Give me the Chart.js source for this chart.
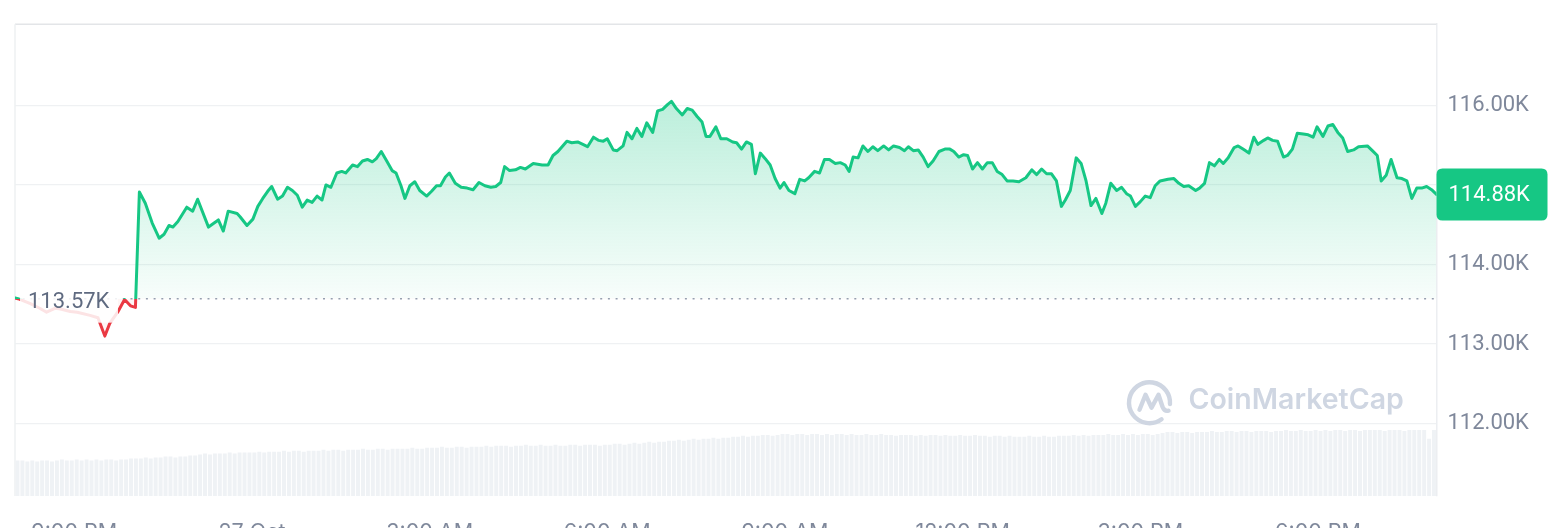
<!DOCTYPE html>
<html><head><meta charset="utf-8">
<script src="https://cdn.jsdelivr.net/npm/chart.js@4.4.1/dist/chart.umd.min.js"></script>
<style>html,body{margin:0;padding:0;background:#fff;overflow:hidden}canvas{display:block}</style>
</head><body>
<canvas id="c" width="1566" height="528"></canvas>
<script>
// minutes after 8:00 PM (26 Oct), price in thousands USD
const pricePoints = [
[0,113.58],[3,113.57],[15,113.51],[25,113.45],[32,113.40],[41,113.45],[46,113.44],[56,113.41],[63,113.40],[76,113.36],[84,113.33],[91,113.10],[96,113.26],[104,113.40],[111,113.56],[117,113.48],[122,113.46],
[126,114.91],[132,114.77],[139,114.52],[146,114.33],[151,114.38],[156,114.49],[160,114.47],[165,114.54],[174,114.72],[180,114.67],[185,114.82],[196,114.47],[206,114.56],[211,114.42],[216,114.67],[225,114.64],[228,114.60],[235,114.49],
[241,114.57],[246,114.73],[251,114.83],[256,114.92],[260,114.98],[266,114.82],[271,114.86],[276,114.97],[281,114.93],[286,114.87],[291,114.72],[296,114.81],[301,114.78],[306,114.86],[311,114.81],[315,115.00],[320,114.97],
[326,115.15],[331,115.17],[335,115.15],[342,115.25],[347,115.23],[352,115.30],[357,115.32],[362,115.29],[366,115.33],[371,115.42],[377,115.29],[382,115.18],[386,115.15],[391,114.99],[395,114.83],[400,114.99],[405,115.04],
[410,114.93],[417,114.86],[422,114.92],[427,114.99],[431,114.99],[436,115.10],[440,115.15],[446,115.02],[452,114.97],[458,114.96],[464,114.94],[470,115.03],[476,114.99],[482,114.97],[487,114.98],[492,115.03],
[496,115.23],[501,115.18],[507,115.19],[512,115.22],[517,115.20],[525,115.27],[534,115.25],[540,115.25],[545,115.37],[550,115.42],[559,115.55],[564,115.53],[570,115.54],[580,115.48],[586,115.60],[591,115.56],[596,115.55],
[600,115.58],[606,115.44],[610,115.43],[616,115.49],[620,115.66],[625,115.58],[630,115.71],[635,115.61],[640,115.78],[646,115.66],[651,115.93],[656,115.95],[661,116.01],[665,116.05],[670,115.96],[676,115.88],[681,115.96],
[686,115.94],[691,115.86],[696,115.79],[700,115.61],[704,115.61],[710,115.73],[715,115.58],[721,115.58],[727,115.54],[731,115.53],[736,115.45],[741,115.54],[746,115.51],[750,115.14],[755,115.40],[760,115.33],[765,115.25],
[770,115.08],[775,114.96],[779,115.03],[784,114.93],[790,114.89],[795,115.07],[800,115.05],[804,115.09],[810,115.17],[815,115.15],[820,115.32],[825,115.32],[831,115.27],[836,115.28],[841,115.25],[845,115.17],[849,115.35],
[854,115.34],[859,115.49],[864,115.42],[869,115.48],[874,115.43],[880,115.49],[885,115.44],[890,115.49],[896,115.47],[901,115.43],[905,115.48],[910,115.43],[915,115.44],[920,115.35],[925,115.23],[930,115.30],[936,115.42],
[942,115.45],[947,115.45],[951,115.42],[956,115.35],[961,115.38],[965,115.37],[970,115.20],[975,115.28],[980,115.20],[985,115.28],[990,115.28],[995,115.17],[1000,115.13],[1005,115.05],[1011,115.05],[1017,115.04],
[1024,115.09],[1030,115.19],[1035,115.13],[1040,115.20],[1045,115.14],[1050,115.14],[1055,115.05],[1060,114.73],[1064,114.81],[1069,114.93],[1075,115.34],[1080,115.27],[1085,115.05],[1090,114.74],[1095,114.83],
[1101,114.64],[1105,114.77],[1110,115.02],[1116,114.93],[1121,114.97],[1126,114.89],[1130,114.86],[1135,114.73],[1140,114.79],[1145,114.86],[1150,114.84],[1155,114.99],[1160,115.05],[1168,115.07],[1174,115.08],
[1179,115.02],[1184,114.98],[1189,114.99],[1196,114.93],[1200,114.96],[1205,115.02],[1210,115.28],[1215,115.24],[1220,115.32],[1224,115.27],[1229,115.34],[1235,115.47],[1239,115.49],[1244,115.45],[1250,115.40],
[1255,115.60],[1259,115.51],[1265,115.56],[1269,115.59],[1274,115.56],[1279,115.55],[1285,115.35],[1289,115.37],[1294,115.45],[1299,115.65],[1305,115.64],[1310,115.63],[1315,115.60],[1319,115.73],[1325,115.61],
[1330,115.74],[1335,115.76],[1340,115.66],[1345,115.59],[1350,115.42],[1356,115.44],[1361,115.48],[1370,115.49],[1375,115.43],[1380,115.37],[1384,115.05],[1389,115.12],[1394,115.32],[1400,115.09],[1405,115.08],
[1410,115.05],[1415,114.83],[1420,114.96],[1425,114.96],[1430,114.98],[1435,114.94],[1440,114.88]
];
const baselinePrice = 113.57;
// 5-minute volume bars (billions USD)
const volumeStart = 2.5, volumeStep = 5;
const volumes = [
36,36,35,36,35,36,36,35,36,37,36,36,
37,36,37,36,37,36,37,37,36,37,37,38,
38,38,39,38,39,39,40,40,39,40,40,41,
41,42,43,42,43,43,43,44,43,44,44,44,
44,45,44,45,45,45,46,45,46,46,45,46,
46,46,47,46,47,47,46,47,47,47,48,47,
47,48,48,47,48,48,48,48,49,48,48,49,
49,49,50,49,49,50,50,49,50,50,50,51,
50,51,51,51,50,51,51,52,51,51,52,51,
51,52,51,51,52,52,51,52,52,52,51,52,
52,53,53,52,53,54,53,54,55,54,55,55,
56,56,57,56,57,58,57,58,58,59,58,59,
59,60,60,61,60,61,61,62,62,61,62,63,
63,62,63,63,62,63,63,62,63,62,63,63,
62,63,62,62,63,62,62,63,62,62,61,62,
62,62,61,62,61,62,62,61,62,61,61,62,
61,61,62,61,61,60,61,61,60,61,60,60,
60,61,60,60,61,60,60,61,61,61,62,61,
62,61,62,62,62,63,62,62,63,62,63,62,
63,63,62,63,64,65,65,64,65,65,64,65,
65,65,66,65,65,66,66,65,66,66,65,66,
66,66,65,66,66,67,66,66,67,66,66,67,
66,67,66,67,67,66,67,67,66,67,67,67,
67,66,67,67,67,66,67,67,67,67,58,67
];
const xTickMinutes = [60,240,420,600,780,960,1140,1320];
const xTickLabels = ['9:00 PM','27 Oct','3:00 AM','6:00 AM','9:00 AM','12:00 PM','3:00 PM','6:00 PM'];
const yTicks = [112,113,114,115,116];

const GREEN = '#16c784', RED = '#ea3943';
const AXIS_COLOR = '#7f889b';
const FONT = 'Inter';
const NUM_FONT = 'Roboto';
const currentPrice = pricePoints[pricePoints.length-1][1];

Chart.defaults.font.family = FONT;

function lineGradient(chart){
  const a = chart.chartArea; if(!a) return GREEN;
  const yb = chart.scales.y.getPixelForValue(baselinePrice);
  const t = Math.min(1, Math.max(0, (yb - a.top)/(a.bottom - a.top)));
  const g = chart.ctx.createLinearGradient(0, a.top, 0, a.bottom);
  g.addColorStop(0, GREEN); g.addColorStop(t, GREEN); g.addColorStop(t, RED); g.addColorStop(1, RED);
  return g;
}
function fillGradient(chart){
  const a = chart.chartArea; if(!a) return 'rgba(22,199,132,0.15)';
  const maxP = Math.max(...pricePoints.map(p=>p[1]));
  const y0 = chart.scales.y.getPixelForValue(maxP);
  const y1 = chart.scales.y.getPixelForValue(baselinePrice);
  const g = chart.ctx.createLinearGradient(0, y0, 0, y1);
  g.addColorStop(0, 'rgba(22,199,132,0.29)');
  g.addColorStop(1, 'rgba(22,199,132,0.03)');
  return g;
}

function roundRect(ctx, x, y, w, h, r){
  ctx.beginPath();
  ctx.moveTo(x+r, y); ctx.lineTo(x+w-r, y); ctx.quadraticCurveTo(x+w, y, x+w, y+r);
  ctx.lineTo(x+w, y+h-r); ctx.quadraticCurveTo(x+w, y+h, x+w-r, y+h);
  ctx.lineTo(x+r, y+h); ctx.quadraticCurveTo(x, y+h, x, y+h-r);
  ctx.lineTo(x, y+r); ctx.quadraticCurveTo(x, y, x+r, y);
  ctx.closePath();
}

const decor = {
  id: 'decor',
  beforeDatasetsDraw(chart){
    const {ctx, chartArea: a} = chart;
    ctx.save();
    // frame lines
    ctx.lineWidth = 1.5;
    ctx.strokeStyle = '#e3e5e8';
    ctx.beginPath(); ctx.moveTo(a.left, a.top); ctx.lineTo(a.right, a.top); ctx.stroke();
    ctx.strokeStyle = '#eef0f2';
    ctx.beginPath(); ctx.moveTo(a.left, a.top); ctx.lineTo(a.left, a.bottom); ctx.stroke();
    // watermark
    const wc = '#cfd6e2';
    const cx = a.right - 287, cy = a.top + 378.5, r = 20.5;
    ctx.strokeStyle = wc; ctx.lineWidth = 4.4; ctx.lineCap = 'round'; ctx.lineJoin = 'round';
    ctx.beginPath(); ctx.arc(cx, cy, r, 0.30*Math.PI, 2.02*Math.PI); ctx.stroke();
    ctx.beginPath();
    ctx.moveTo(cx-10, cy+7);
    ctx.lineTo(cx-4, cy-8);
    ctx.lineTo(cx+2, cy+5);
    ctx.lineTo(cx+9, cy-8);
    ctx.lineTo(cx+13, cy+4);
    ctx.quadraticCurveTo(cx+15, cy+9, cx+19, cy+8);
    ctx.stroke();
    ctx.fillStyle = wc;
    ctx.font = '600 28.5px ' + FONT;
    ctx.textBaseline = 'alphabetic'; ctx.textAlign = 'left';
    ctx.fillText('CoinMarketCap', a.right - 248, a.top + 385);
    // baseline dotted line
    const yb = chart.scales.y.getPixelForValue(baselinePrice);
    ctx.setLineDash([2, 5.7]); ctx.lineCap = 'butt';
    ctx.strokeStyle = '#98a1b2'; ctx.lineWidth = 1.6;
    ctx.beginPath(); ctx.moveTo(a.left, yb); ctx.lineTo(a.right, yb); ctx.stroke();
    ctx.restore();
  },
  afterDatasetsDraw(chart){
    const {ctx, chartArea: a} = chart;
    const yb = chart.scales.y.getPixelForValue(baselinePrice);
    ctx.save();
    // baseline label
    ctx.fillStyle = 'rgba(255,255,255,0.86)';
    ctx.fillRect(a.left + 5, yb - 17, 98, 41);
    ctx.fillStyle = '#5f6a80';
    ctx.font = '22px ' + NUM_FONT;
    ctx.textBaseline = 'middle'; ctx.textAlign = 'left';
    ctx.fillText(baselinePrice.toFixed(2) + 'K', a.left + 13, yb + 4);
    // current price badge
    const yc = chart.scales.y.getPixelForValue(currentPrice);
    ctx.fillStyle = GREEN;
    roundRect(ctx, a.right, yc - 26, 111, 52, 6); ctx.fill();
    ctx.fillStyle = '#ffffff';
    ctx.fillText(currentPrice.toFixed(2) + 'K', a.right + 12, yc + 1);
    ctx.restore();
  }
};

new Chart(document.getElementById('c'), {
  type: 'line',
  data: {
    datasets: [
      {
        type: 'line',
        data: pricePoints.map(p => ({x: p[0], y: p[1]})),
        yAxisID: 'y',
        borderWidth: 3,
        pointRadius: 0,
        tension: 0,
        borderJoinStyle: 'round',
        borderCapStyle: 'round',
        borderColor: (c) => lineGradient(c.chart),
        backgroundColor: (c) => fillGradient(c.chart),
        fill: {target: {value: baselinePrice}, below: 'rgba(234,57,67,0.05)'},
        order: 1
      },
      {
        type: 'bar',
        data: volumes.map((v, i) => ({x: volumeStart + i*volumeStep, y: v})),
        yAxisID: 'yv',
        backgroundColor: '#eff2f5',
        barPercentage: 0.8,
        categoryPercentage: 1,
        order: 2
      }
    ]
  },
  options: {
    responsive: false,
    animation: false,
    events: [],
    layout: {padding: {left: 15, top: 18.5, right: 0, bottom: 0}},
    plugins: {legend: {display: false}, tooltip: {enabled: false}},
    scales: {
      x: {
        type: 'linear', min: 0, max: 1440, offset: false,
        grid: {display: false}, border: {display: false},
        afterFit: s => { s.height = 32; },
        afterBuildTicks: s => { s.ticks = xTickMinutes.map(v => ({value: v})); },
        ticks: {
          autoSkip: false, maxRotation: 0, padding: 16, color: AXIS_COLOR,
          font: {family: FONT, size: 21.5},
          callback: v => { const i = xTickMinutes.indexOf(v); return i >= 0 ? xTickLabels[i] : ''; }
        }
      },
      y: {
        type: 'linear', position: 'right', min: 111.09, max: 117.02,
        afterFit: s => { s.width = 129.5; },
        afterBuildTicks: s => { s.ticks = yTicks.map(v => ({value: v})); },
        grid: {color: '#eff1f3', lineWidth: 1.2, drawTicks: false},
        border: {display: true, color: '#eceef1', width: 1.5},
        ticks: {
          padding: 11, color: AXIS_COLOR, font: {family: NUM_FONT, size: 22},
          callback: v => Math.abs(v - currentPrice) < 0.35 ? '' : v.toFixed(2) + 'K'
        }
      },
      yv: {type: 'linear', display: false, min: 0, max: Math.max(...volumes) / 0.14}
    }
  },
  plugins: [decor]
});
</script>
</body></html>
